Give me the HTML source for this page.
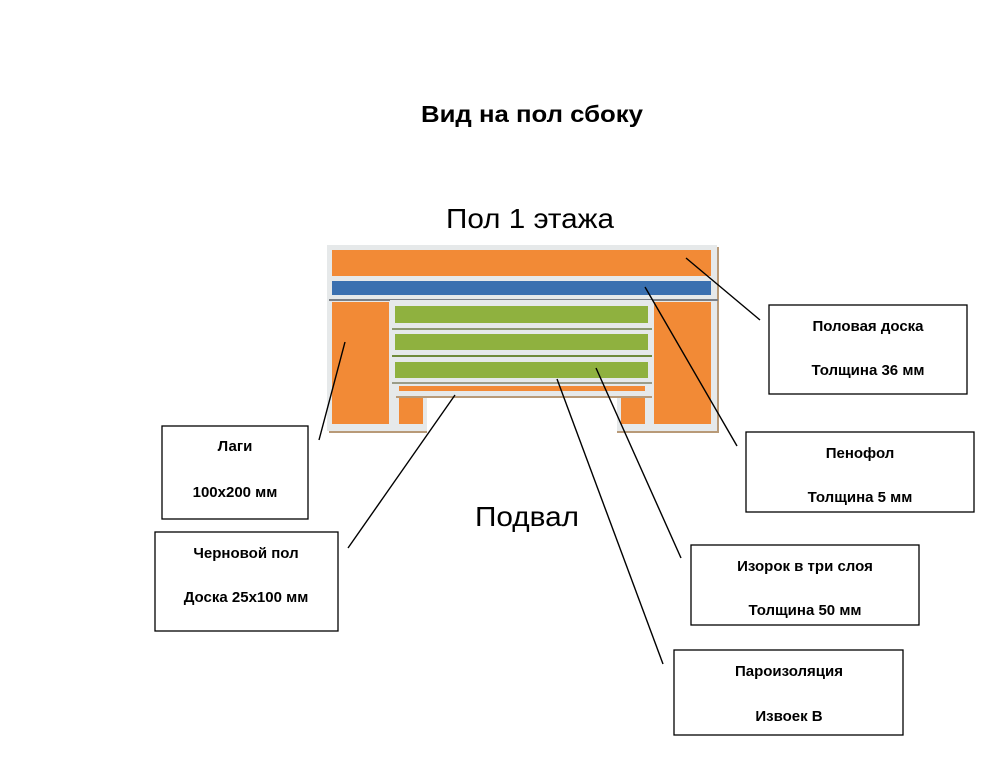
<!DOCTYPE html>
<html><head><meta charset="utf-8"><style>
html,body{margin:0;padding:0;background:#fff;}
svg{display:block;}
text{font-family:"Liberation Sans",sans-serif;fill:#000;}
.b{font-weight:bold;font-size:15px;}
</style></head><body>
<svg width="995" height="768" viewBox="0 0 995 768" xmlns="http://www.w3.org/2000/svg">
<text x="532" y="122" text-anchor="middle" font-weight="bold" font-size="23" textLength="222" lengthAdjust="spacingAndGlyphs">Вид на пол сбоку</text>
<text x="530" y="228" text-anchor="middle" font-size="28" textLength="168" lengthAdjust="spacingAndGlyphs">Пол 1 этажа</text>
<text x="527" y="526" text-anchor="middle" font-size="28" textLength="104" lengthAdjust="spacingAndGlyphs">Подвал</text>

<rect x="329" y="247" width="390" height="186" fill="#b89a78"/>
<rect x="327" y="245" width="390" height="186" fill="#e6e9ea"/>
<rect x="332" y="250" width="379" height="26" fill="#f28a36"/>
<rect x="332" y="281" width="379" height="14" fill="#3a70b0"/>
<rect x="329" y="299" width="389" height="2" fill="#7a7f86"/>
<rect x="332" y="302" width="57" height="122" fill="#f28a36"/>
<rect x="654" y="302" width="57" height="122" fill="#f28a36"/>
<rect x="390" y="300" width="262" height="128" fill="#e6e9ea"/>
<rect x="395" y="306" width="253" height="17" fill="#8fb13f"/>
<rect x="392" y="328" width="260" height="2" fill="#8d9870"/>
<rect x="395" y="334" width="253" height="16" fill="#8fb13f"/>
<rect x="392" y="355" width="260" height="2" fill="#6f8a3a"/>
<rect x="395" y="362" width="253" height="16" fill="#8fb13f"/>
<rect x="392" y="382" width="260" height="2" fill="#9a9c88"/>
<rect x="399" y="386" width="246" height="5" fill="#f28a36"/>
<rect x="396" y="396" width="256" height="2" fill="#b89a78"/>
<rect x="399" y="398" width="24" height="26" fill="#f28a36"/>
<rect x="621" y="398" width="24" height="26" fill="#f28a36"/>
<rect x="427" y="398" width="190" height="35" fill="#fff"/>

<g stroke="#000" stroke-width="1.4">
<line x1="686" y1="258" x2="760" y2="320"/>
<line x1="645" y1="287" x2="737" y2="446"/>
<line x1="596" y1="368" x2="681" y2="558"/>
<line x1="557" y1="379" x2="663" y2="664"/>
<line x1="455" y1="395" x2="348" y2="548"/>
<line x1="345" y1="342" x2="319" y2="440"/>
</g>

<g fill="#fff" stroke="#000" stroke-width="1.3">
<rect x="769" y="305" width="198" height="89"/>
<rect x="746" y="432" width="228" height="80"/>
<rect x="691" y="545" width="228" height="80"/>
<rect x="674" y="650" width="229" height="85"/>
<rect x="162" y="426" width="146" height="93"/>
<rect x="155" y="532" width="183" height="99"/>
</g>
<g class="b" text-anchor="middle">
<text x="868" y="331">Половая доска</text>
<text x="868" y="375">Толщина 36 мм</text>
<text x="860" y="458">Пенофол</text>
<text x="860" y="502">Толщина 5 мм</text>
<text x="805" y="571">Изорок в три слоя</text>
<text x="805" y="615">Толщина 50 мм</text>
<text x="789" y="676">Пароизоляция</text>
<text x="789" y="721">Извоек В</text>
<text x="235" y="451">Лаги</text>
<text x="235" y="497">100x200 мм</text>
<text x="246" y="558">Черновой пол</text>
<text x="246" y="602">Доска 25x100 мм</text>
</g>
</svg>
</body></html>
